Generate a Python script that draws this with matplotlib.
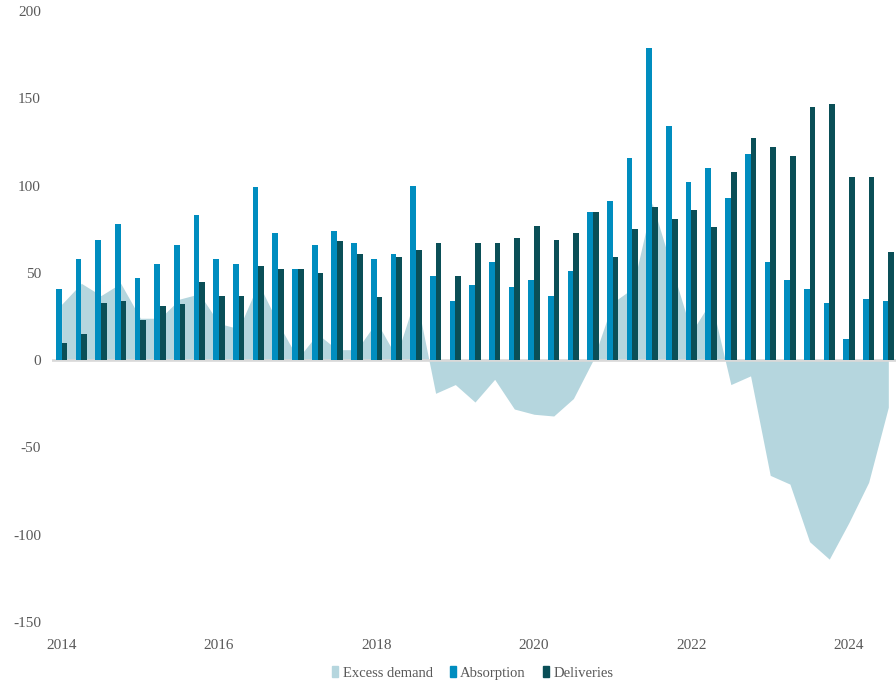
import matplotlib
matplotlib.use("Agg")
import matplotlib.pyplot as plt
from matplotlib.patches import Patch
import numpy as np

# Quarterly series, 2014 Q1 – 2024 Q3
quarters = [f"{y} Q{q}" for y in range(2014, 2025) for q in range(1, 5)][:43]

absorption = [41, 58, 69, 78, 47, 55, 66, 83, 58, 55,
              99, 73, 52, 66, 74, 67, 58, 61, 100, 48,
              34, 43, 56, 42, 46, 37, 51, 85, 91, 116,
              179, 134, 102, 110, 93, 118, 56, 46, 41, 33,
              12, 35, 34]

deliveries = [10, 15, 33, 34, 23, 31, 32, 45, 37, 37,
              54, 52, 52, 50, 68, 61, 36, 59, 63, 67,
              48, 67, 67, 70, 77, 69, 73, 85, 59, 75,
              88, 81, 86, 76, 108, 127, 122, 117, 145, 147,
              105, 105, 62]

excess_demand = [32, 44, 37, 44, 24, 24, 35, 38, 21, 18,
                 44, 21, 1, 15, 6, 6, 22, 2, 37, -19,
                 -14, -24, -11, -28, -31, -32, -22, 0, 33, 41,
                 90, 53, 16, 34, -14, -9, -66, -71, -104, -114,
                 -93, -70, -27]

year_ticks = ["2014", "2016", "2018", "2020", "2022", "2024"]
y_ticks = [-150, -100, -50, 0, 50, 100, 150, 200]

C_EXCESS = "#b5d6de"
C_ABS = "#008dbf"
C_DEL = "#0a4f57"
C_TEXT = "#595959"
FONT = ["Liberation Serif", "DejaVu Serif"]

plt.rcParams["font.family"] = FONT

fig = plt.figure(figsize=(8.96, 6.82), dpi=100)
ax = fig.add_axes([52 / 896, 60 / 682, 844 / 896, 611 / 682])

x = np.arange(len(quarters))
w = 0.29

ax.fill_between(x, excess_demand, 0, color=C_EXCESS, lw=0, zorder=1)
ax.axhline(0, color="#d9d9d9", lw=1.9, zorder=1.5)
ax.bar(x - w / 2, absorption, width=w, color=C_ABS, lw=0, zorder=2)
ax.bar(x + w / 2, deliveries, width=w, color=C_DEL, lw=0, zorder=2)

ax.set_xlim(-0.49, 42.39)
ax.set_ylim(-150, 200)

tick_pos = [quarters.index(f"{y} Q1") for y in year_ticks]
ax.set_xticks(tick_pos)
ax.set_xticklabels(year_ticks)
ax.set_yticks(y_ticks)
ax.set_yticklabels([str(v) for v in y_ticks])
ax.tick_params(axis="both", length=0, labelsize=11, colors=C_TEXT)
ax.tick_params(axis="y", pad=8)
ax.tick_params(axis="x", pad=12)

for s in ax.spines.values():
    s.set_visible(False)

handles = [Patch(color=C_EXCESS, label="Excess demand"),
           Patch(color=C_ABS, label="Absorption"),
           Patch(color=C_DEL, label="Deliveries")]
leg = fig.legend(handles=handles, loc="center", bbox_to_anchor=(473 / 896, 1 - 673 / 682),
                 ncol=3, frameon=False, fontsize=10.5, handlelength=0.4, handleheight=0.8,
                 handletextpad=0.3, columnspacing=1.2, labelcolor=C_TEXT)

fig.savefig("out.png", dpi=100)
